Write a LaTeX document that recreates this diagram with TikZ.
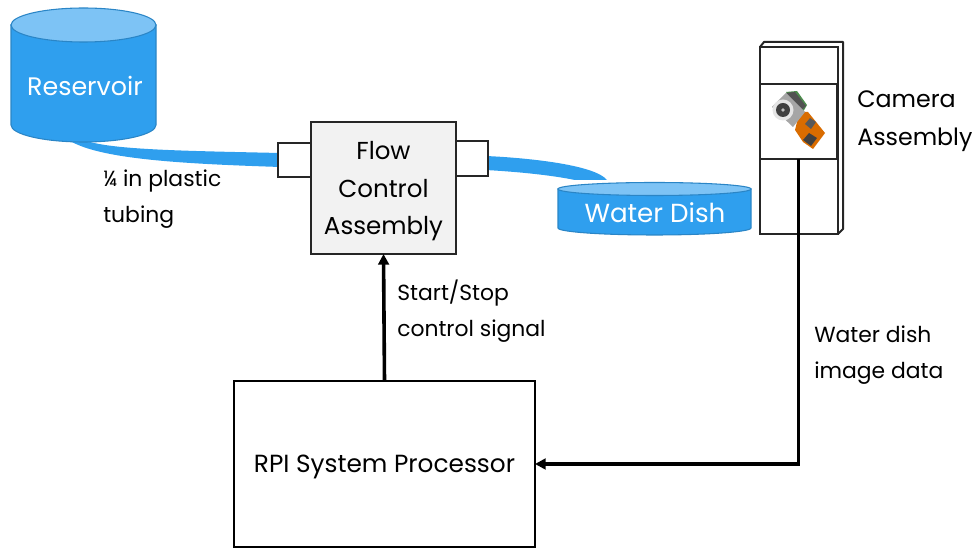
\documentclass[tikz,border=0pt]{standalone}
\usepackage{fontspec}
\setmainfont{Poppins}
\usetikzlibrary{arrows.meta}
\definecolor{wat}{HTML}{2F9FEE}
\definecolor{watl}{HTML}{7DC3F5}
\definecolor{wate}{HTML}{2A85C6}
\definecolor{boxc}{HTML}{262626}
\tikzset{
  x=0.75pt,y=-0.75pt,
  lbl/.style={font=\fontsize{16.4}{27}\selectfont,text=black,align=left,inner sep=0pt},
  big/.style={font=\fontsize{17.8}{28.5}\selectfont,text=black,inner sep=0pt},
  wlbl/.style={text=white,inner sep=0pt},
  boxn/.style={draw=boxc,line width=1.9pt,inner sep=0pt,outer sep=0pt},
  thin box/.style={draw=boxc,line width=1.5pt,fill=white,inner sep=0pt,outer sep=0pt},
  tank/.style={fill=wat,draw=wate,line width=0.8pt},
  tanktop/.style={fill=watl,draw=wate,line width=0.8pt},
  sig/.style={line width=2.7pt,draw=black,-{Triangle[length=8pt,width=8pt]}},
}
\begin{document}
\begin{tikzpicture}
\useasboundingbox (0,0) rectangle (976,548);
% tubes
\fill[wat] (72,142) .. controls (105,160) and (190,164) .. (280,167) -- (280,153) .. controls (190,151) and (120,150) .. (90,142) -- cycle;
\fill[wat] (486,156) .. controls (530,158) and (595,165) .. (607,180) -- (575,180) .. controls (550,175) and (520,172) .. (486,170) -- cycle;
% reservoir
\draw[tank] (11,25) -- (11,125) arc[start angle=180,end angle=360,x radius=72.5,y radius=-17] -- (156,25) -- cycle;
\draw[tanktop] (83.5,25) ellipse[x radius=72.5,y radius=17];
\node[wlbl,font=\fontsize{19}{22}\selectfont] (res) at (85,86) {Reservoir};
% dish
\draw[tank] (558,189) -- (558,228) arc[start angle=180,end angle=360,x radius=96.5,y radius=-7] -- (751,189) -- cycle;
\draw[tanktop] (654.5,189) ellipse[x radius=96.5,y radius=6.5];
\node[wlbl,font=\fontsize{19.6}{22}\selectfont] (dish) at (655,213) {Water Dish};
% flow control
\node[boxn,fill=black!5,minimum width=108.75pt,minimum height=99pt,font=\fontsize{18.4}{28.2}\selectfont,align=center,text=black,text depth=-2pt] (flow) at (383.5,188) {Flow\\Control\\Assembly};
\node[thin box,minimum width=24.75pt,minimum height=25.5pt,anchor=east] (pl) at (flow.west |- 0,160) {};
\node[thin box,minimum width=24pt,minimum height=26.25pt,anchor=west] (pr) at (flow.east |- 0,158.5) {};
% camera
\draw[boxc,line width=1.5pt,line join=round,fill=white] (760,47) -- (764,42) -- (843,42) -- (843,229) -- (838,234) -- cycle;
\node[draw=boxc,line width=1.5pt,fill=white,inner sep=0pt,outer sep=0pt,minimum width=58.5pt,minimum height=140.25pt] (cam) at (799,140.5) {};
\node[draw=boxc,line width=1.1pt,fill=white,inner sep=0pt,outer sep=0pt,minimum width=57.75pt,minimum height=56.25pt] (lens) at (798.5,121.5) {};
\draw[boxc,line width=1.7pt] (lens.north east) -- (lens.south east);
% camera module picture
\fill[green!35!black!70] (786,92) -- (797,91) -- (807,105) -- (803,112) -- cycle;
\fill[black!68] (786,93) -- (795,92) -- (806,106) -- (801,111) -- cycle;
\fill[orange!85!black] (801,112) -- (808,112) -- (825,133) -- (813,149) -- (803,142) -- (795,130) -- (797,122) -- cycle;
\fill[black!35] (772,107) -- (786,93) -- (805,112) -- (793,127) -- cycle;
\fill[black!65] (810,118) -- (816,122) -- (811,129) -- (805,124) -- cycle;
\fill[black!75] (809,133) -- (817,138) -- (811,146) -- (803,140) -- cycle;
\fill[black!10] (783,110) circle[radius=10.5];
\fill[black!75] (783,110) circle[radius=7];
\fill[black!25] (783,110) circle[radius=1.8];
% processor
\node[draw=black,line width=1.3pt,fill=white,inner sep=0pt,outer sep=0pt,minimum width=225.75pt,minimum height=124.5pt,font=\fontsize{18.6}{22}\selectfont,text=black,text depth=0pt] (rpi) at (384.5,464) {RPI System Processor};
% connectors
\draw[sig] (lens.south) -- (lens.south |- rpi.east) -- (rpi.east);
\draw[sig] (rpi.north) -- (flow.south);
% labels
\node[lbl,anchor=north west] (l1) at (103,170) {¼ in plastic\\tubing};
\node[lbl,anchor=north west] (l2) at (397,280) {Start/Stop\\control signal};
\node[lbl,anchor=north west] (l3) at (814,326) {Water dish\\image data};
\node[big,align=left,anchor=north west] (l4) at (857,90) {Camera\\Assembly};
\end{tikzpicture}
\end{document}
